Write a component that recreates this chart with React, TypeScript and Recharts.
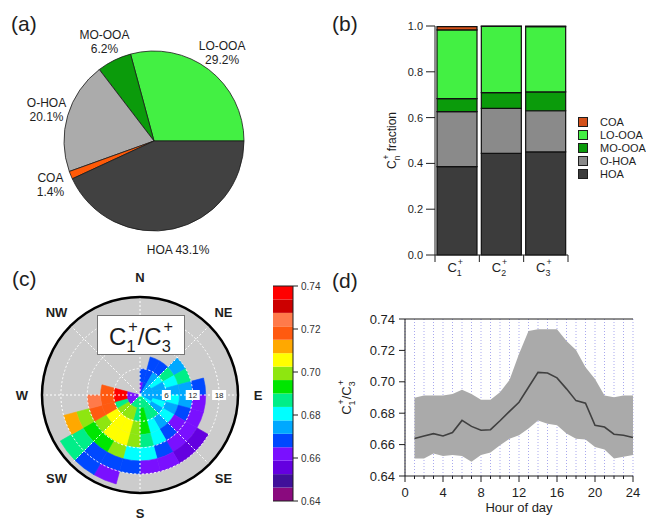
import React from "react";
import {
  PieChart,
  Pie,
  Cell,
  BarChart,
  Bar,
  XAxis,
  YAxis,
  ComposedChart,
  Area,
  Line,
  CartesianGrid,
  RadialBarChart,
  RadialBar,
  PolarAngleAxis,
  PolarRadiusAxis,
  RadarChart,
  Radar,
  PolarGrid,
  Label,
} from "recharts";

const FONT = "'Liberation Sans', Arial, Helvetica, sans-serif";
const INK = "#1e1e1e";
const RAD = Math.PI / 180;
const NO_MARGIN = { top: 0, right: 0, bottom: 0, left: 0 };

// (a) pie: shares, counter-clockwise from east
const PIE_NAMES = ["LO-OOA", "MO-OOA", "O-HOA", "COA", "HOA"];
const PIE_SHARES = [29.2, 6.2, 20.1, 1.4, 43.1];
const PIE_COLORS = ["#43f043", "#0b9b0b", "#ababab", "#ff5a08", "#414141"];

// (b) stacked fractions per ion
const ION_SUBS = ["1", "2", "3"];
const HOA_FRAC = [0.386, 0.444, 0.45];
const OHOA_FRAC = [0.24, 0.196, 0.18];
const MOOOA_FRAC = [0.057, 0.069, 0.082];
const LOOOA_FRAC = [0.3, 0.289, 0.285];
const COA_FRAC = [0.014, 0.002, 0.003];
const FRAC_TICKS = [0, 0.2, 0.4, 0.6, 0.8, 1.0];
const STACK_KEYS = ["HOA", "O-HOA", "MO-OOA", "LO-OOA", "COA"];
const BAR_COLORS: Record<string, string> = {
  HOA: "#3c3c3c",
  "O-HOA": "#8a8a8a",
  "MO-OOA": "#0b9b0b",
  "LO-OOA": "#43f043",
  COA: "#d4511a",
};

// (c) polar map of C1+/C3+ : rings of wind speed, 15 deg sectors clockwise from N
const _ = null;
const RING_EDGES = [0, 3, 6, 9, 12, 15, 18, 21];
const HEAT_R0 = [0.664, 0.667, 0.674, 0.674, 0.675, 0.674, 0.674, 0.675, 0.68, 0.684, 0.686, 0.688, 0.69, 0.69, 0.688, 0.664, 0.664, 0.662, 0.663, _, _, _, _, _];
const HEAT_R1 = [0.668, 0.668, 0.676, 0.678, 0.674, 0.673, 0.674, 0.678, 0.677, 0.686, 0.688, 0.692, 0.69, 0.697, 0.702, 0.7, 0.69, 0.736, 0.734, _, _, _, _, _];
const HEAT_R2 = [_, 0.665, 0.668, 0.684, 0.68, 0.672, 0.678, 0.674, 0.678, 0.674, 0.682, 0.695, 0.697, 0.705, 0.705, 0.705, 0.72, 0.72, 0.72, _, _, _, _, _];
const HEAT_R3 = [_, _, _, 0.672, 0.686, 0.674, 0.674, 0.668, 0.662, 0.668, 0.678, 0.69, 0.7, 0.705, 0.706, 0.698, 0.718, 0.723, _, _, _, _, _, _];
const HEAT_R4 = [_, _, _, _, _, 0.668, 0.664, 0.66, 0.66, 0.662, 0.667, 0.678, 0.682, 0.697, 0.695, 0.692, 0.7, _, _, _, _, _, _, _];
const HEAT_R5 = [_, _, _, _, _, _, _, _, 0.658, 0.658, 0.66, 0.664, 0.668, 0.668, 0.668, 0.688, 0.712, _, _, _, _, _, _, _];
const HEAT_R6 = [_, _, _, _, _, _, _, _, _, _, _, _, _, 0.664, 0.666, 0.688, _, _, _, _, _, _, _, _];
const HEAT = [HEAT_R0, HEAT_R1, HEAT_R2, HEAT_R3, HEAT_R4, HEAT_R5, HEAT_R6];
const DIRS = ["N", "NE", "E", "SE", "S", "SW", "W", "NW"];
const SPEED_TICKS = [6, 12, 18];
const R_MAX = 22.3;

// colour scale, bottom to top
const CBAR_MIN = 0.64;
const CBAR_MAX = 0.74;
const CBAR_TICKS = [0.64, 0.66, 0.68, 0.7, 0.72, 0.74];
const CBAR_COLORS = [
  "#8a0a7e", "#40109a", "#6400e0", "#7a10ff", "#0048ff", "#00a8ff", "#00ffff", "#00ee88",
  "#00e600", "#8ee610", "#ffff00", "#ffa800", "#ff5a10", "#ff7a4a", "#cc0000", "#ff0000",
];
const CBAR_STEP = (CBAR_MAX - CBAR_MIN) / CBAR_COLORS.length;

// (d) diurnal cycle
const HOURS = [1, 2, 3, 4, 5, 6, 7, 8, 9, 10, 11, 12, 13, 14, 15, 16, 17, 18, 19, 20, 21, 22, 23, 24];
const RATIO_MEAN = [0.6639, 0.6655, 0.667, 0.6655, 0.6677, 0.6754, 0.6716, 0.6691, 0.6695, 0.6752, 0.6812, 0.687, 0.6965, 0.706, 0.7056, 0.7025, 0.6955, 0.688, 0.6864, 0.6723, 0.6712, 0.6666, 0.666, 0.6645];
const RATIO_UPPER = [0.6898, 0.6913, 0.6913, 0.6913, 0.6923, 0.695, 0.6923, 0.6885, 0.6885, 0.6934, 0.7012, 0.7177, 0.7324, 0.7334, 0.7334, 0.7334, 0.726, 0.7202, 0.7092, 0.7018, 0.6913, 0.6902, 0.6913, 0.6913];
const RATIO_LOWER = [0.6512, 0.6512, 0.6544, 0.6527, 0.6533, 0.6527, 0.649, 0.6533, 0.655, 0.6596, 0.6638, 0.666, 0.6702, 0.6754, 0.6733, 0.6723, 0.667, 0.6638, 0.6632, 0.6585, 0.6569, 0.6512, 0.6522, 0.6533];
const HOUR_TICKS = [0, 1, 2, 3, 4, 5, 6, 7, 8, 9, 10, 11, 12, 13, 14, 15, 16, 17, 18, 19, 20, 21, 22, 23, 24];
const RATIO_TICKS = [0.64, 0.66, 0.68, 0.7, 0.72, 0.74];

// ---- derived tables ----
const pieData = PIE_NAMES.map((name, i) => ({ name, value: PIE_SHARES[i] }));
const barRows = ION_SUBS.map((ion, i) => ({
  ion,
  HOA: HOA_FRAC[i],
  "O-HOA": OHOA_FRAC[i],
  "MO-OOA": MOOOA_FRAC[i],
  "LO-OOA": LOOOA_FRAC[i],
  COA: COA_FRAC[i],
}));
const BIN_KEYS = HEAT_R0.map((_v, i) => `b${i}`);
const heatRows = HEAT.map((_r, ri) => {
  const row: Record<string, number | string> = { ring: `${RING_EDGES[ri]}-${RING_EDGES[ri + 1]}` };
  BIN_KEYS.forEach((k) => (row[k] = 360 / BIN_KEYS.length));
  return row;
});
const dirRows = DIRS.map((dir) => ({ dir, v: 0 }));
const cbarRow: Record<string, number | string> = { k: "cb", base: CBAR_MIN };
CBAR_COLORS.forEach((_c, i) => (cbarRow[`c${i}`] = CBAR_STEP));
const hourRows = HOURS.map((h, i) => ({ h, mean: RATIO_MEAN[i], band: [RATIO_LOWER[i], RATIO_UPPER[i]] }));

const colorFor = (v: number | null) => {
  if (v == null) return "none";
  const i = Math.floor((v - CBAR_MIN) / CBAR_STEP);
  return CBAR_COLORS[Math.max(0, Math.min(CBAR_COLORS.length - 1, i))];
};

// "C" with stacked subscript / superscript +
function ionParts(sub: string, size: number, key: string, after?: string) {
  const s = size * 0.68;
  const parts = [
    <tspan key={key + "c"}>C</tspan>,
    <tspan key={key + "b"} dy={size * 0.3} fontSize={s}>{sub}</tspan>,
    <tspan key={key + "p"} dx={-s * 0.45} dy={-size * 0.85} fontSize={s}>+</tspan>,
  ];
  if (after) parts.push(<tspan key={key + "r"} dy={size * 0.55}>{after}</tspan>);
  return parts;
}

// polar geometry
const PCX = 140;
const PCY = 133;
const DISK_R = 98;
const LABEL_R = 118;

function pieLabel(p: any) {
  const r = p.outerRadius + 22;
  const x = p.cx + r * Math.cos(-p.midAngle * RAD);
  const y = p.cy + r * Math.sin(-p.midAngle * RAD);
  const name = p.name ?? p.payload?.name;
  const pct = `${Number(p.value).toFixed(1)}%`;
  if (p.midAngle > 240 && p.midAngle < 300) {
    return (
      <text x={x} y={y + 4} textAnchor="middle" fontSize={12} fill={INK}>
        {`${name} ${pct}`}
      </text>
    );
  }
  return (
    <text textAnchor="middle" fontSize={12} fill={INK}>
      <tspan x={x} y={y - 2}>{name}</tspan>
      <tspan x={x} y={y + 12}>{pct}</tspan>
    </text>
  );
}

// ion label under each bar, with tick marks on the category edges
function ionTick(p: any) {
  const n = p.visibleTicksCount || ION_SUBS.length;
  const bw = (p.width || 133) / n;
  const left = p.x - bw / 2;
  const right = p.x + bw / 2;
  return (
    <g>
      <line x1={left} x2={left} y1={p.y} y2={p.y + 7} stroke={INK} />
      {p.index === n - 1 && <line x1={right} x2={right} y1={p.y} y2={p.y + 7} stroke={INK} />}
      <text x={p.x - 2} y={p.y + 17} textAnchor="middle" fontSize={13} fill={INK}>
        {ionParts(p.payload.value, 13, "t")}
      </text>
    </g>
  );
}

function hourTick(p: any) {
  const v = p.payload.value;
  const major = v % 4 === 0;
  return (
    <g>
      <line x1={p.x} x2={p.x} y1={p.y} y2={p.y + (major ? 6 : 3)} stroke={INK} />
      {major && (
        <text x={p.x} y={p.y + 21} textAnchor="middle" fontSize={13} fill={INK}>
          {v}
        </text>
      )}
    </g>
  );
}

function compassTick(p: any) {
  const dx = p.x - PCX;
  const dy = p.y - PCY;
  const n = Math.hypot(dx, dy) || 1;
  return (
    <text x={PCX + (dx / n) * LABEL_R} y={PCY + (dy / n) * LABEL_R + 5} textAnchor="middle" fontSize={13} fontWeight={700} fill={INK}>
      {p.payload.value}
    </text>
  );
}

function speedTick(p: any) {
  const s = String(p.payload.value);
  const w = 4 + s.length * 5;
  return (
    <g>
      <rect x={p.x - w / 2} y={p.y - 5} width={w} height={10} fill="#fff" />
      <text x={p.x} y={p.y + 3} textAnchor="middle" fontSize={8} fill={INK}>
        {s}
      </text>
    </g>
  );
}

const letter = (t: string, left: number, top: number) => (
  <div style={{ position: "absolute", left, top, fontSize: 21, lineHeight: "24px", color: INK }}>{t}</div>
);

export default function App() {
  return (
    <div style={{ position: "absolute", left: 0, top: 0, width: 646, height: 521, background: "#fff", fontFamily: FONT, color: INK, overflow: "hidden" }}>
      {/* (a) */}
      <div style={{ position: "absolute", left: 0, top: 0 }}>
        <PieChart width={330} height={262} margin={NO_MARGIN}>
          <Pie
            data={pieData}
            dataKey="value"
            nameKey="name"
            cx={154}
            cy={141}
            outerRadius={90}
            startAngle={0}
            endAngle={360}
            stroke="#1a1a1a"
            strokeWidth={0.8}
            label={pieLabel}
            labelLine={false}
            isAnimationActive={false}
          >
            {pieData.map((d, i) => (
              <Cell key={d.name} fill={PIE_COLORS[i]} />
            ))}
          </Pie>
        </PieChart>
      </div>

      {/* (b) */}
      <div style={{ position: "absolute", left: 330, top: 0 }}>
        <BarChart width={316} height={290} data={barRows} margin={{ top: 26, right: 78, bottom: 34, left: 60 }} barCategoryGap={2}>
          <XAxis dataKey="ion" height={1} tickSize={0} tickMargin={0} tickLine={false} stroke={INK} tick={ionTick} interval={0} />
          <YAxis
            domain={[0, 1]}
            ticks={FRAC_TICKS}
            tickFormatter={(v: number) => v.toFixed(1)}
            width={45}
            tickSize={9}
            tickMargin={3}
            stroke={INK}
            tick={{ fontSize: 11, fill: INK }}
          >
            <Label
              content={(p: any) => {
                const vb = p.viewBox;
                const x = vb.x + 6;
                const y = vb.y + vb.height / 2;
                return (
                  <text x={x} y={y} transform={`rotate(-90, ${x}, ${y})`} textAnchor="middle" fontSize={12} fill={INK}>
                    {ionParts("n", 12, "y", " fraction")}
                  </text>
                );
              }}
            />
          </YAxis>
          <YAxis yAxisId="r" orientation="right" domain={[0, 1]} width={0} tick={false} tickLine={false} stroke={INK} />
          {STACK_KEYS.map((k) => (
            <Bar key={k} dataKey={k} stackId="f" fill={BAR_COLORS[k]} stroke="#111" strokeWidth={1.2} isAnimationActive={false} />
          ))}
        </BarChart>
      </div>
      <div style={{ position: "absolute", left: 578, top: 115, width: 68 }}>
        {[...STACK_KEYS].reverse().map((k) => (
          <div key={k} style={{ display: "flex", alignItems: "center", height: 13, fontSize: 11, color: INK, whiteSpace: "nowrap" }}>
            <span style={{ width: 8, height: 8, background: BAR_COLORS[k], border: `1px solid ${INK}`, marginRight: 12, display: "inline-block", flex: "none" }} />
            {k}
          </div>
        ))}
      </div>

      {/* (c) background disk */}
      <div style={{ position: "absolute", left: 0, top: 262 }}>
        <PieChart width={270} height={259} margin={NO_MARGIN}>
          <Pie data={[{ v: 1 }]} dataKey="v" cx={PCX} cy={PCY} outerRadius={DISK_R} fill="#cccccc" stroke="none" isAnimationActive={false} />
        </PieChart>
      </div>
      {/* (c) heat sectors */}
      <div style={{ position: "absolute", left: 0, top: 262 }}>
        <RadialBarChart
          width={270}
          height={259}
          margin={NO_MARGIN}
          cx={PCX}
          cy={PCY}
          innerRadius={0}
          outerRadius={(DISK_R * RING_EDGES[RING_EDGES.length - 1]) / R_MAX}
          startAngle={90}
          endAngle={-270}
          data={heatRows}
          barCategoryGap={0}
          barGap={0}
        >
          <PolarAngleAxis type="number" domain={[0, 360]} tick={false} axisLine={false} tickLine={false} />
          <PolarRadiusAxis type="category" dataKey="ring" tick={false} axisLine={false} tickLine={false} />
          {BIN_KEYS.map((k, bi) => (
            <RadialBar key={k} dataKey={k} stackId="h" isAnimationActive={false}>
              {heatRows.map((_r, ri) => {
                const c = colorFor(HEAT[ri][bi]);
                return <Cell key={ri} fill={c} stroke={c} strokeWidth={0.6} />;
              })}
            </RadialBar>
          ))}
        </RadialBarChart>
      </div>
      {/* (c) grid, frame and labels */}
      <div style={{ position: "absolute", left: 0, top: 262 }}>
        <RadarChart width={270} height={259} margin={NO_MARGIN} cx={PCX} cy={PCY} outerRadius={DISK_R} startAngle={90} endAngle={-270} data={dirRows}>
          <PolarGrid gridType="circle" stroke="#ffffff" strokeDasharray="2 2" strokeWidth={1} />
          <PolarAngleAxis dataKey="dir" axisLineType="circle" axisLine={{ stroke: "#000", strokeWidth: 2.5 }} tickLine={false} tick={compassTick} />
          <PolarRadiusAxis type="number" domain={[0, R_MAX]} ticks={SPEED_TICKS} angle={0} axisLine={false} tickLine={false} tick={speedTick} allowDataOverflow />
          <Radar dataKey="v" fill="none" stroke="none" isAnimationActive={false} />
        </RadarChart>
      </div>
      <div style={{ position: "absolute", left: 97, top: 315, width: 86, height: 38, border: "1px solid #777", background: "#fff" }}>
        <svg width={86} height={38}>
          <text x={43} y={29} textAnchor="middle" fontSize={24} fill={INK}>
            {[...ionParts("1", 24, "a", "/"), ...ionParts("3", 24, "b")]}
          </text>
        </svg>
      </div>

      {/* (c) colour bar */}
      <div style={{ position: "absolute", left: 250, top: 262 }}>
        <BarChart width={80} height={259} data={[cbarRow]} margin={{ top: 23, right: 0, bottom: 19, left: 23 }} barCategoryGap={0}>
          <XAxis dataKey="k" height={1} tick={false} tickLine={false} stroke={INK} />
          <XAxis xAxisId="t" dataKey="k" orientation="top" height={1} tick={false} tickLine={false} stroke={INK} />
          <YAxis
            orientation="right"
            domain={[CBAR_MIN, CBAR_MAX]}
            allowDataOverflow
            ticks={CBAR_TICKS}
            tickFormatter={(v: number) => v.toFixed(2)}
            width={37}
            tickSize={5}
            tickMargin={3}
            stroke={INK}
            tick={{ fontSize: 10, fill: "#333" }}
          />
          <YAxis yAxisId="l" domain={[CBAR_MIN, CBAR_MAX]} width={0} tick={false} tickLine={false} stroke={INK} />
          <Bar dataKey="base" stackId="cb" fill="none" isAnimationActive={false} />
          {CBAR_COLORS.map((c, i) => (
            <Bar key={c} dataKey={`c${i}`} stackId="cb" fill={c} isAnimationActive={false} />
          ))}
        </BarChart>
      </div>

      {/* (d) */}
      <div style={{ position: "absolute", left: 330, top: 290 }}>
        <ComposedChart width={316} height={231} data={hourRows} margin={{ top: 28, right: 13, bottom: 0, left: 30 }}>
          <CartesianGrid horizontal={false} stroke="#a9a9ee" strokeDasharray="1 2" />
          <XAxis
            dataKey="h"
            type="number"
            domain={[0, 24]}
            ticks={HOUR_TICKS}
            interval={0}
            height={45}
            tickSize={0}
            tickMargin={0}
            tickLine={false}
            tick={hourTick}
            stroke={INK}
          >
            <Label
              content={(p: any) => {
                const vb = p.viewBox;
                return (
                  <text x={vb.x + vb.width / 2} y={vb.y + 36} textAnchor="middle" fontSize={13} fill={INK}>
                    Hour of day
                  </text>
                );
              }}
            />
          </XAxis>
          <XAxis xAxisId="top" orientation="top" type="number" domain={[0, 24]} height={1} tick={false} tickLine={false} stroke={INK} />
          <YAxis
            domain={[0.64, 0.74]}
            ticks={RATIO_TICKS}
            tickFormatter={(v: number) => v.toFixed(2)}
            width={45}
            tickSize={6}
            tickMargin={4}
            stroke={INK}
            tick={{ fontSize: 13, fill: INK }}
          >
            <Label
              content={(p: any) => {
                const vb = p.viewBox;
                const x = vb.x - 9;
                const y = vb.y + vb.height / 2;
                return (
                  <text x={x} y={y} transform={`rotate(-90, ${x}, ${y})`} textAnchor="middle" fontSize={13} fill={INK}>
                    {[...ionParts("1", 13, "a", "/"), ...ionParts("3", 13, "b")]}
                  </text>
                );
              }}
            />
          </YAxis>
          <YAxis yAxisId="r" orientation="right" domain={[0.64, 0.74]} width={0} tick={false} tickLine={false} stroke={INK} />
          <Area dataKey="band" fill="#aaaaaa" fillOpacity={1} stroke="none" isAnimationActive={false} />
          <Line dataKey="mean" stroke="#404040" strokeWidth={1.6} dot={false} isAnimationActive={false} />
        </ComposedChart>
      </div>

      {letter("(a)", 11, 12)}
      {letter("(b)", 332, 12)}
      {letter("(c)", 12, 267)}
      {letter("(d)", 332, 269)}
    </div>
  );
}
